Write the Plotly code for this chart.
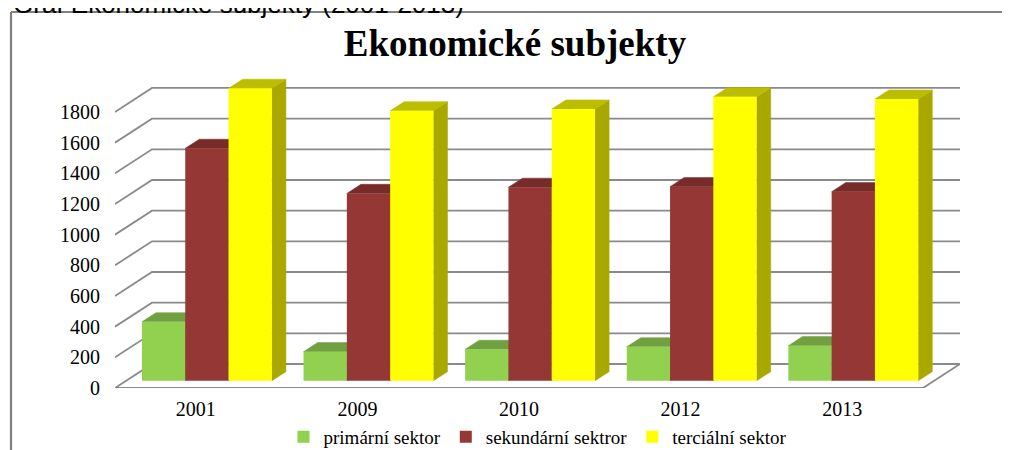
import plotly.graph_objects as go

# ---------------- data ----------------
years = ["2001", "2009", "2010", "2012", "2013"]
primarni = [385, 190, 205, 222, 229]
sekundarni = [1516, 1222, 1262, 1266, 1233]
tercialni = [1907, 1761, 1772, 1852, 1837]
series_names = ["primární sektor", "sekundární sektror", "terciální sektor"]
y_ticks = [0, 200, 400, 600, 800, 1000, 1200, 1400, 1600, 1800]

# ---------------- style / geometry ----------------
front_cols = ["#92D050", "#953735", "#FFFF00"]
top_cols = ["#70A040", "#772C2A", "#BDBD00"]
side_cols = ["#6A9838", "#6E2826", "#A8A800"]
SERIF = "Liberation Serif, Times New Roman, serif"
GRID = "#8A8A8A"

OFF = 8                      # page body margin of the browser
W, H = 1010, 450
# target positions in page pixels
PL, PR, PT, PB = 115, 960, 60, 388   # plot area left/right/top/bottom on the page
L = PL - OFF
T = PT - OFF
R = W - (PR - OFF)
B = H - (PB - OFF)
plot_w, plot_h = W - L - R, H - T - B
depth_px = (37, 24)             # oblique depth of the floor (px)
n = len(years)
xpp = n / (plot_w - depth_px[0])  # category units per pixel
ypp = 200 / 30.67                 # value units per pixel
DX, DY = depth_px[0] * xpp, depth_px[1] * ypp
x_min, x_max = -0.5, n - 0.5 + DX
y_max = plot_h * ypp

bar_front = 0.30   # depth fraction of bar front face
bar_depth = 0.38   # depth fraction of bar thickness
bar_w = 0.268      # bar width (category units)

fig = go.Figure()

# back wall gridlines + left wall diagonals + floor
gx, gy = [], []
for v in y_ticks:
    gx += [x_min, x_min + DX, x_max, None]
    gy += [v, v + DY, v + DY, None]
gx += [x_min, n - 0.5, x_max, None]
gy += [0, 0, DY, None]
fig.add_trace(go.Scatter(x=gx, y=gy, mode="lines", line=dict(color=GRID, width=1.8),
                         hoverinfo="skip", showlegend=False, zorder=0))

series = [primarni, sekundarni, tercialni]
fx, fy = bar_front * DX, bar_front * DY
ddx, ddy = bar_depth * DX, bar_depth * DY
for j, vals in enumerate(series):
    centers = [i + fx + (j - 1) * bar_w for i in range(n)]
    sx, sy, tx, ty = [], [], [], []
    for c, v in zip(centers, vals):
        x0, x1 = c - bar_w / 2, c + bar_w / 2
        y0, y1 = fy, fy + v
        sx += [x1, x1 + ddx, x1 + ddx, x1, x1, None]
        sy += [y0, y0 + ddy, y1 + ddy, y1, y0, None]
        tx += [x0, x1, x1 + ddx, x0 + ddx, x0, None]
        ty += [y1, y1, y1 + ddy, y1 + ddy, y1, None]
    fig.add_trace(go.Scatter(x=sx, y=sy, mode="lines", fill="toself", fillcolor=side_cols[j],
                             line=dict(color=side_cols[j], width=0.5), hoverinfo="skip",
                             showlegend=False, zorder=2 * j + 1))
    fig.add_trace(go.Scatter(x=tx, y=ty, mode="lines", fill="toself", fillcolor=top_cols[j],
                             line=dict(color=top_cols[j], width=0.5), hoverinfo="skip",
                             showlegend=False, zorder=2 * j + 1))
    fig.add_trace(go.Bar(x=centers, y=vals, base=[fy] * n, width=bar_w, name=series_names[j],
                         marker=dict(color=front_cols[j], line=dict(width=0)),
                         zorder=2 * j + 2))

# helpers: page pixel -> paper coordinates
def px_x(px):
    return (px - PL) / plot_w

def px_y(py):
    return (PB - py) / plot_h

# outer border (top + left) and cut-off caption
fig.add_shape(type="line", xref="paper", yref="paper",
              x0=px_x(11), x1=px_x(W + 20), y0=px_y(12), y1=px_y(12),
              line=dict(color="#808080", width=2.2))
fig.add_shape(type="line", xref="paper", yref="paper",
              x0=px_x(11), x1=px_x(11), y0=px_y(12), y1=px_y(H + 20),
              line=dict(color="#808080", width=2.2))
fig.add_annotation(text="Graf Ekonomické subjekty (2001-2013)", xref="paper", yref="paper",
                   x=px_x(11), y=px_y(4), xanchor="left", yanchor="middle",
                   showarrow=False, font=dict(family="Liberation Sans, Arial, sans-serif",
                                              size=26, color="#000000"))

fig.update_layout(
    width=W, height=H, autosize=False,
    margin=dict(l=L, r=R, t=T, b=B, autoexpand=False),
    paper_bgcolor="white", plot_bgcolor="white",
    barmode="overlay",
    title=dict(text="<b>Ekonomické subjekty</b>", x=(515 - OFF) / W, y=1 - (43 - OFF) / H,
               xanchor="center", yanchor="middle",
               font=dict(family=SERIF, size=37, color="#000000")),
    xaxis=dict(range=[x_min, x_max], tickvals=list(range(n)), ticktext=years,
               showgrid=False, zeroline=False, showline=False, ticks="",
               tickfont=dict(family=SERIF, size=20, color="#000000"),
               ticklabelstandoff=7, fixedrange=True),
    yaxis=dict(range=[0, y_max], tickvals=y_ticks, ticktext=[str(v) for v in y_ticks],
               showgrid=False, zeroline=False, showline=False, ticks="",
               tickfont=dict(family=SERIF, size=20, color="#000000"),
               ticklabelstandoff=14, fixedrange=True),
    legend=dict(orientation="h", x=0.5, xanchor="center", y=px_y(437),
                yanchor="middle", font=dict(family=SERIF, size=19, color="#000000"),
                bgcolor="rgba(0,0,0,0)", traceorder="normal"),
    showlegend=True,
)

fig.write_html("out.html")
